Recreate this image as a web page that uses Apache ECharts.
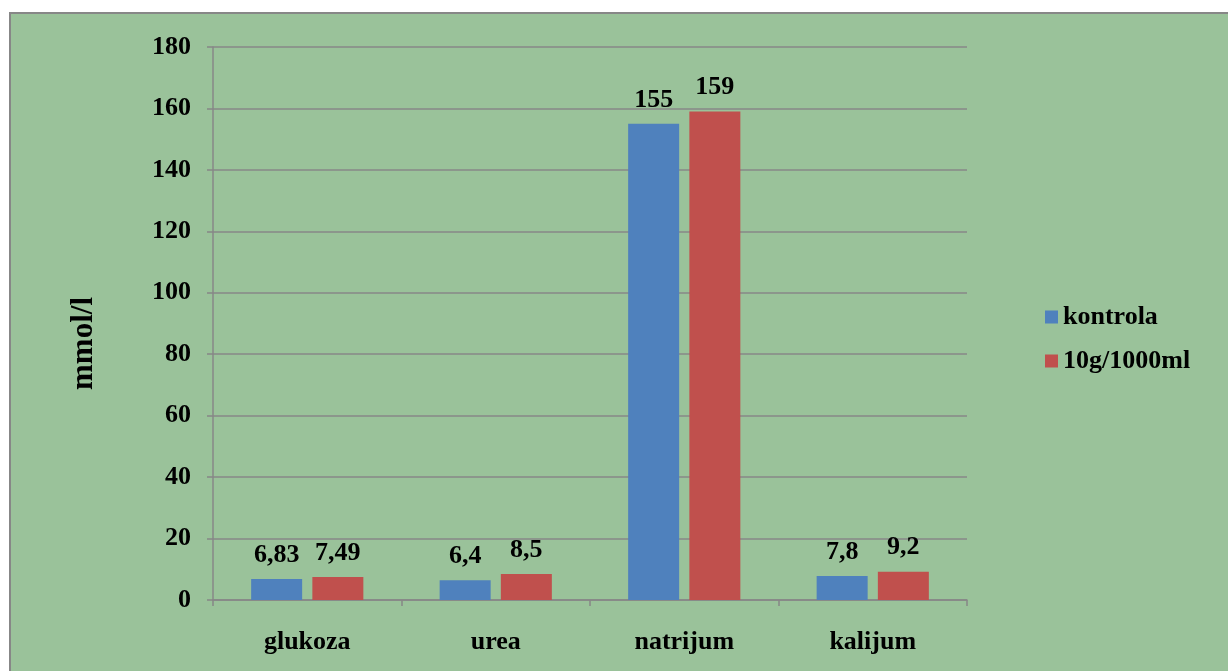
<!DOCTYPE html>
<html>
<head>
<meta charset="utf-8">
<script src="https://cdn.jsdelivr.net/npm/echarts@6/dist/echarts.min.js"></script>
<style>
  html, body { margin: 0; padding: 0; background: #ffffff; }
  #frame {
    position: absolute; left: 9px; top: 12px; width: 1230px; height: 670px;
    background: #9ac29a; border: 2px solid #878787; box-sizing: border-box;
  }
  #chart { position: absolute; left: 0; top: 0; width: 1228px; height: 671px; }
</style>
</head>
<body>
<div id="frame"></div>
<div id="chart"></div>
<script>
// Blood parameters, mmol/l
const categories = ['glukoza', 'urea', 'natrijum', 'kalijum'];
const kontrola = [6.83, 6.4, 155, 7.8];
const tretman = [7.49, 8.5, 159, 9.2];
const seriesNames = ['kontrola', '10g/1000ml'];
const yTicks = { min: 0, max: 180, interval: 20 };

const font = 'Liberation Serif, Times New Roman, serif';
const fmt = v => String(v.value).replace('.', ',');

const chart = echarts.init(document.getElementById('chart'));
chart.setOption({
  backgroundColor: 'transparent',
  animation: false,
  grid: { left: 213, right: 261, top: 47, bottom: 71 },
  legend: {
    orient: 'vertical', left: 1040, top: 299,
    itemWidth: 13, itemHeight: 13, itemGap: 18,
    icon: 'rect',
    textStyle: { fontFamily: font, fontWeight: 'bold', fontSize: 26, color: '#000' },
    data: seriesNames
  },
  xAxis: {
    type: 'category', data: categories,
    axisLine: { lineStyle: { color: '#878787', width: 1.5 } },
    axisTick: { show: true, length: 6, lineStyle: { color: '#878787', width: 1.5 } },
    axisLabel: { margin: 29, fontFamily: font, fontWeight: 'bold', fontSize: 26, color: '#000' }
  },
  yAxis: {
    type: 'value', min: yTicks.min, max: yTicks.max, interval: yTicks.interval,
    name: 'mmol/l', nameLocation: 'middle', nameGap: 114, nameRotate: 90,
    nameTextStyle: { fontFamily: font, fontWeight: 'bold', fontSize: 31, color: '#000',
      padding: [0, 40, 0, 0] },
    axisLine: { show: true, lineStyle: { color: '#878787', width: 1.5 } },
    axisTick: { show: true, length: 6, lineStyle: { color: '#878787', width: 1.5 } },
    splitLine: { lineStyle: { color: '#878787', width: 1.5 } },
    axisLabel: { margin: 22, fontFamily: font, fontWeight: 'bold', fontSize: 26, color: '#000' }
  },
  series: [
    {
      name: seriesNames[0], type: 'bar', data: kontrola,
      barWidth: 51, barGap: '20%',
      itemStyle: { color: '#4f81bd' },
      label: { show: true, position: 'top', distance: 11, formatter: fmt,
        fontFamily: font, fontWeight: 'bold', fontSize: 26, color: '#000' }
    },
    {
      name: seriesNames[1], type: 'bar', data: tretman,
      barWidth: 51,
      itemStyle: { color: '#c0504d' },
      label: { show: true, position: 'top', distance: 11, formatter: fmt,
        fontFamily: font, fontWeight: 'bold', fontSize: 26, color: '#000' }
    }
  ]
});
</script>
</body>
</html>
